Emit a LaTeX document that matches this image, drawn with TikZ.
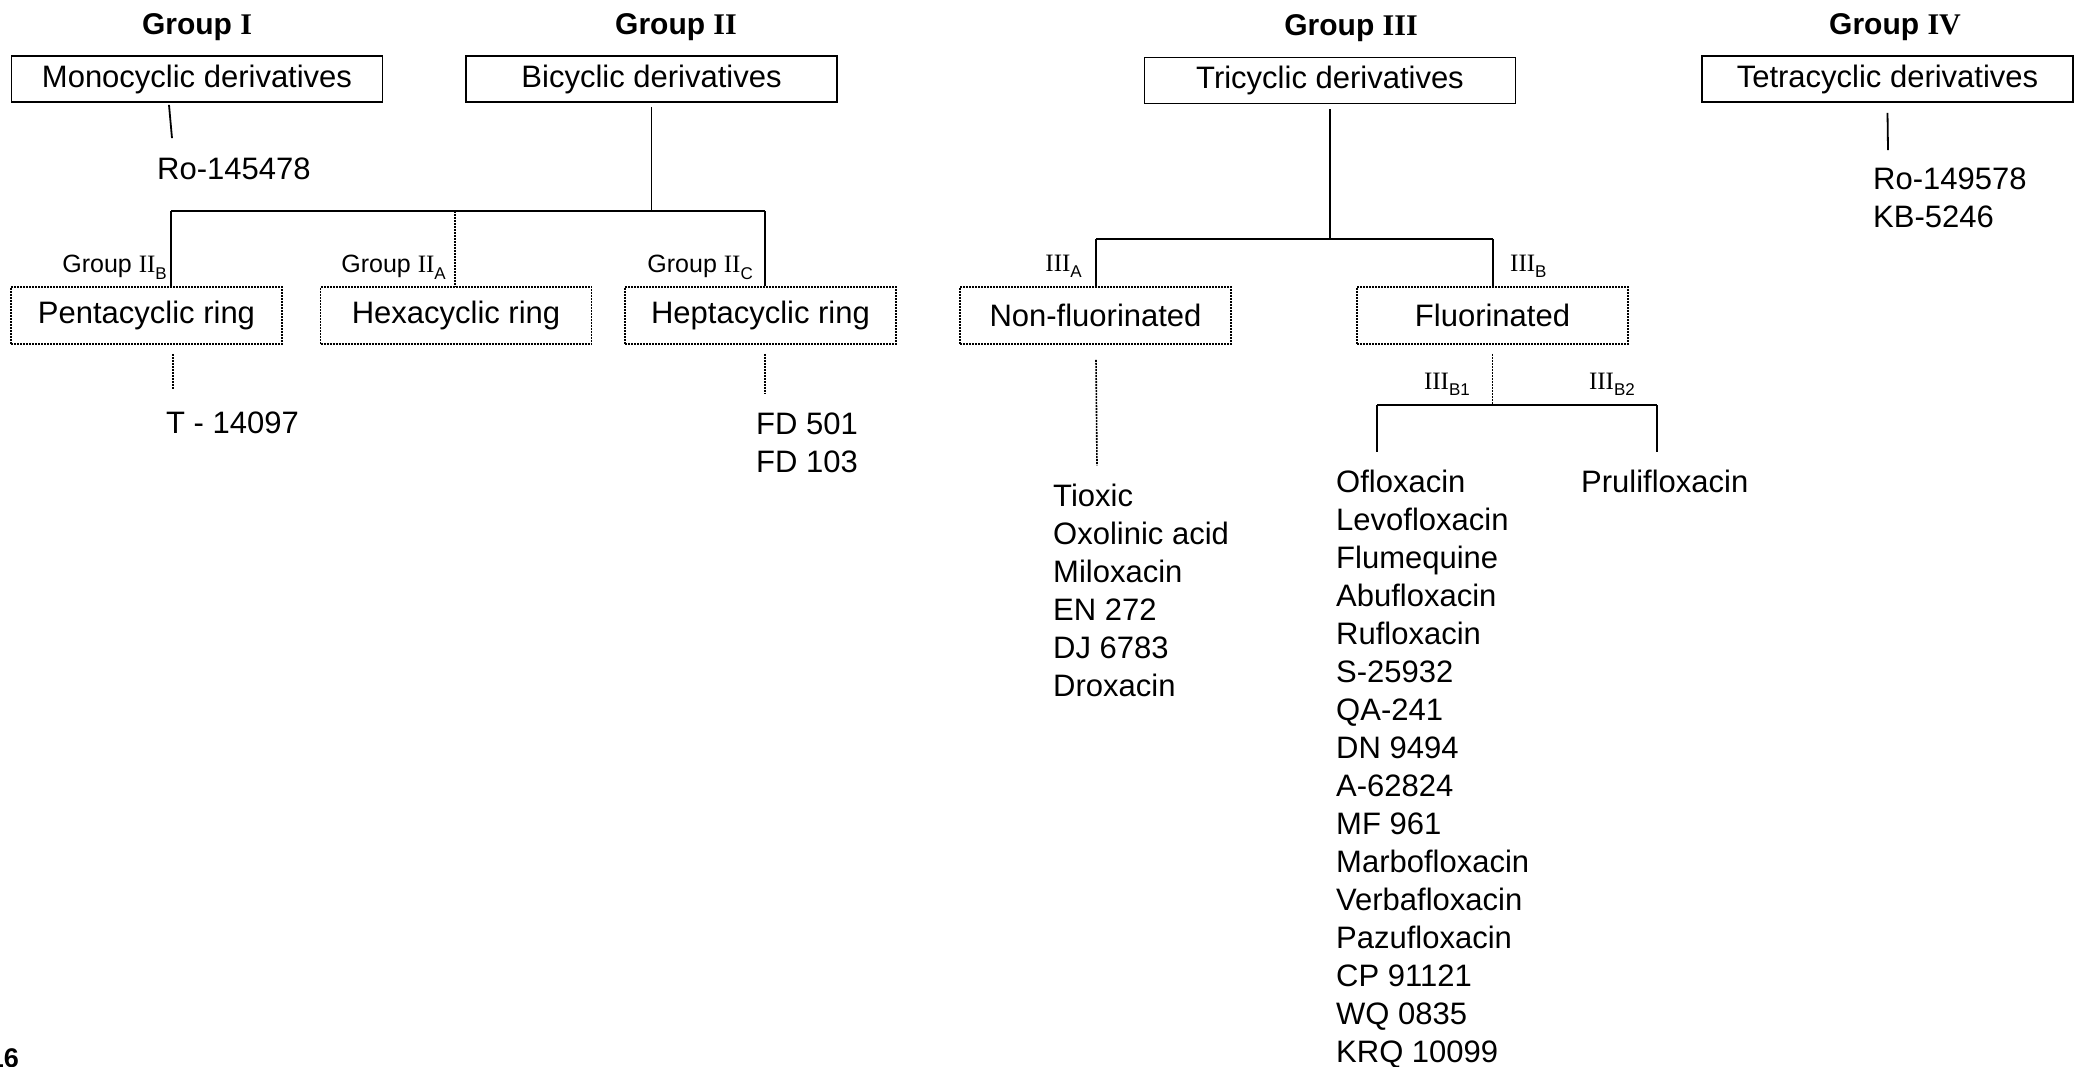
\documentclass[tikz,border=0pt]{standalone}
\usepackage{fontspec}
\setmainfont{Liberation Sans}
\newfontfamily\romfont{Liberation Serif}
\usetikzlibrary{calc}
\newcommand{\rn}[1]{{\romfont #1}}
\newcommand{\lsub}[1]{\raisebox{-6pt}{\fontsize{17}{17}\selectfont #1}}
\tikzset{
  topbox/.style={draw,line width=1.8pt,minimum width=371pt,minimum height=46pt,inner sep=0pt,font=\fontsize{31}{38}\selectfont},
  subbox/.style={draw,line width=1.6pt,dash pattern=on 2pt off 1pt,minimum width=271pt,minimum height=57pt,inner sep=0pt,font=\fontsize{31}{38}\selectfont},
  grp/.style={anchor=base,inner sep=0pt,font=\fontsize{30}{36}\selectfont\bfseries},
  lbl/.style={inner sep=0pt,font=\fontsize{25}{30}\selectfont},
  names/.style={anchor=base west,align=left,inner sep=0pt,font=\fontsize{31}{38}\selectfont},
  link/.style={line width=1.8pt},
  dlink/.style={line width=1.6pt,dash pattern=on 2pt off 1pt},
}

\begin{document}
\begin{tikzpicture}[x=1pt,y=-1pt]
\useasboundingbox (0,0) rectangle (2085,1067);
% group headings
\node[grp] (g1) at (197,35) {Group \rn{I}};
\node[grp] (g2) at (676,35) {Group \rn{II}};
\node[grp] (g3) at (1351,36) {Group \rn{III}};
\node[grp] (g4) at (1895,35) {Group \rn{IV}};
% first row
\node[topbox] (mono) at (197,79) {Monocyclic derivatives};
\node[topbox] (bi) at (651.5,79) {Bicyclic derivatives};
\node[topbox] (tri) at (1330,80.5) {Tricyclic derivatives};
\node[topbox] (tetra) at (1887.5,79) {Tetracyclic derivatives};
% second row
\node[subbox] (penta) at (146.5,315.5) {Pentacyclic ring};
\node[subbox] (hexa) at (456,315.5) {Hexacyclic ring};
\node[subbox] (hepta) at (760.5,315.5) {Heptacyclic ring};
\node[subbox] (nonfl) at (1095.5,315.5) {Non-fluorinated};
\node[subbox] (fl) at (1492.5,315.5) {Fluorinated};
% junctions
\coordinate (IIb) at (171,211);
\coordinate (IIa) at (455,211);
\coordinate (IIc) at (765,211);
\coordinate (IIIa) at (1096,239);
\coordinate (IIIb) at (1493,239);
\coordinate (IIIbi) at (1377,405);
\coordinate (IIIbii) at (1657,405);
% branch labels
\node[lbl,anchor=base east] (lIIb) at (167,273) {Group \rn{II}\lsub{B}};
\node[lbl,anchor=base east] (lIIa) at (446,273) {Group \rn{II}\lsub{A}};
\node[lbl,anchor=base east] (lIIc) at (753,273) {Group \rn{II}\lsub{C}};
\node[lbl,anchor=base east] (lIIIa) at (1082,272) {\rn{III}\lsub{A}};
\node[lbl,anchor=base west] (lIIIb) at (1510,272) {\rn{III}\lsub{B}};
\node[lbl,anchor=base east] (lIIIbi) at (1470,389) {\rn{III}\lsub{B1}};
\node[lbl,anchor=base east] (lIIIbii) at (1635,389) {\rn{III}\lsub{B2}};
% compounds (base = last line)
\node[names] (ro1) at (157,180) {Ro-145478};
\node[names] (t1) at (166,433) {T - 14097};
\node[names] (fd) at (756,472) {FD 501\\FD 103};
\node[names] (nflist) at (1053,696) {Tioxic\\Oxolinic acid\\Miloxacin\\EN 272\\DJ 6783\\Droxacin};
\node[names] (bilist) at (1336,1062) {Ofloxacin\\Levofloxacin\\Flumequine\\Abufloxacin\\Rufloxacin\\S-25932\\QA-241\\DN 9494\\A-62824\\MF 961\\Marbofloxacin\\Verbafloxacin\\Pazufloxacin\\CP 91121\\WQ 0835\\KRQ 10099};
\node[names] (biilist) at (1581,492) {Prulifloxacin};
\node[names] (ivlist) at (1873,228) {Ro-149578\\KB-5246};
\node[anchor=base east,inner sep=0pt,font=\fontsize{27}{27}\selectfont\bfseries] (pg) at (19,1067) {16};
% group I
\draw[link] ([xshift=-28pt,yshift=-2pt]mono.south) -- ([xshift=15pt,yshift=20pt]ro1.north west);
% group II
\draw[link] ([yshift=-4pt]bi.south) -- (bi.south |- IIb);
\draw[link] (IIb) -- (IIc);
\draw[link] (IIb) -- (IIb |- penta.north);
\draw[link] (IIc) -- (IIc |- hepta.north);
\draw[dlink] (IIa) -- (IIa |- hexa.north);
\draw[dlink] ($(IIb |- penta.south)+(2,9)$) -- ($(IIb |- t1.north)+(2,-22)$);
\draw[dlink] ($(IIc |- hepta.south)+(0,9)$) -- ($(IIc |- fd.north)+(0,-19)$);
% group III
\draw[link] ([yshift=-5pt]tri.south) -- (tri.south |- IIIa);
\draw[link] (IIIa) -- (IIIb);
\draw[link] (IIIa) -- (IIIa |- nonfl.north);
\draw[link] (IIIb) -- (IIIb |- fl.north);
\draw[dlink] ($(IIIa |- nonfl.south)+(0,15)$) -- ($(IIIa |- nflist.north)+(1,-18)$);
\draw[dlink] ($(fl.south)+(0,9)$) -- (fl.south |- IIIbi);
\draw[link] (IIIbi) -- (IIIbii);
\draw[link] (IIIbi) -- ($(IIIbi |- bilist.north)+(0,-17)$);
\draw[link] (IIIbii) -- ($(IIIbii |- biilist.north)+(0,-17)$);
% group IV
\draw[link] ([yshift=-10pt]tetra.south) -- ([xshift=15pt,yshift=18pt]ivlist.north west);
\end{tikzpicture}
\end{document}
